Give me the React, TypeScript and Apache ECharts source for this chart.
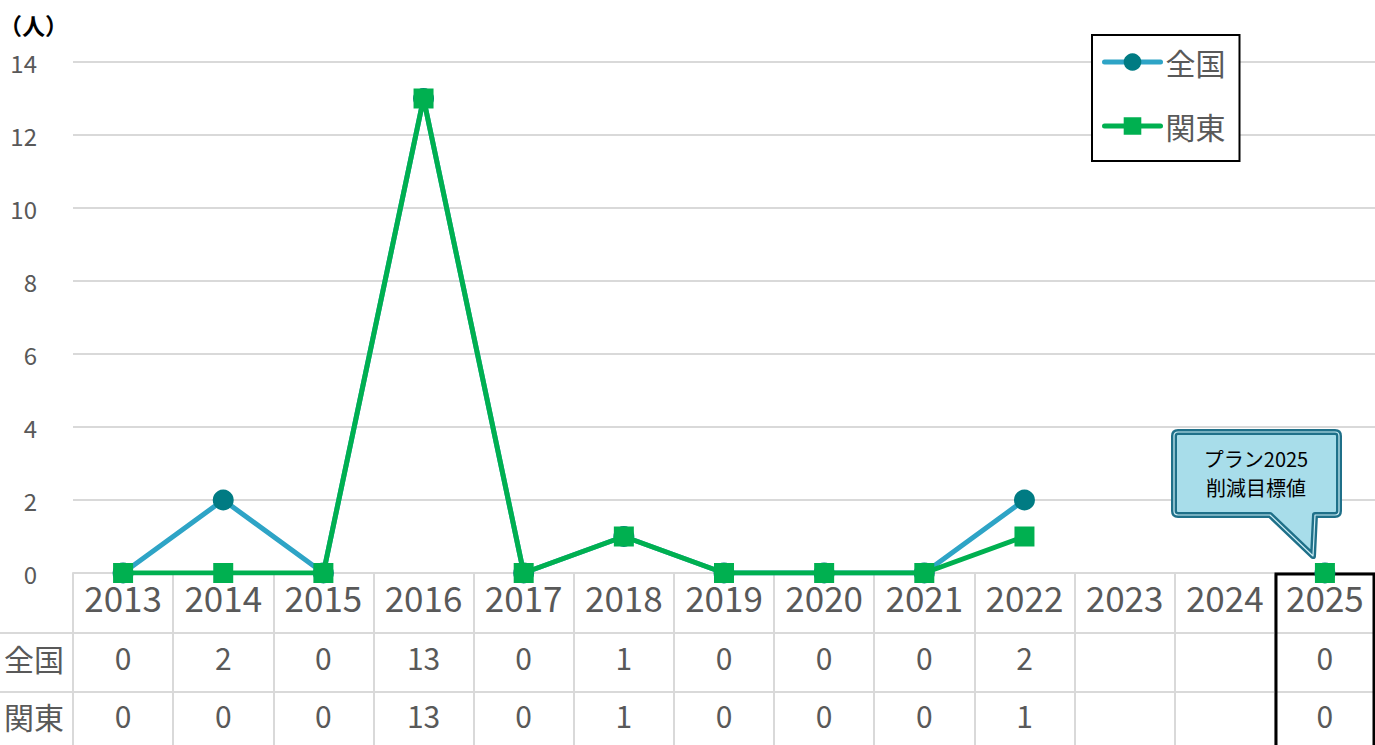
import React, { useEffect, useRef } from "react";
import * as echarts from "echarts";

const years = ["2013", "2014", "2015", "2016", "2017", "2018", "2019", "2020", "2021", "2022", "2023", "2024", "2025"];
const zenkoku: (number | null)[] = [0, 2, 0, 13, 0, 1, 0, 0, 0, 2, null, null, 0];
const kanto: (number | null)[] = [0, 0, 0, 13, 0, 1, 0, 0, 0, 1, null, null, 0];
const seriesNames = ["全国", "関東"];
const yMin = 0;
const yMax = 14;
const yInterval = 2;
const unitLabel = "（人）";
const calloutLines = ["プラン2025", "削減目標値"];

const FONT = "'Noto Sans CJK JP', 'Noto Sans', sans-serif";
const GRID_C = "#d9d9d9";
const TEXT_C = "#595959";

const CALLOUT_D =
  "M4,0 H161 Q165,0 165,4 V79 Q165,83 161,83 H141 L139,124 L96,83 H4 Q0,83 0,79 V4 Q0,0 4,0 Z";
let registered = false;
function ensureShape() {
  if (registered) return;
  echarts.graphic.registerShape("callout", echarts.graphic.extendPath(CALLOUT_D, {}));
  registered = true;
}

const fmt = (arr: (number | null)[]) => (_v: string, i: number) => {
  const v = arr[i];
  return v === null || v === undefined ? "" : String(v);
};

export default function App() {
  const ref = useRef<HTMLDivElement>(null);
  useEffect(() => {
    if (!ref.current) return;
    ensureShape();
    const chart = echarts.init(ref.current, undefined, { renderer: "svg" });
    const baseX = {
      type: "category" as const,
      data: years,
      boundaryGap: true,
      position: "bottom" as const,
    };
    chart.setOption({
      animation: false,
      textStyle: { fontFamily: FONT },
      grid: { left: 73, top: 62, width: 1304, bottom: 172 },
      legend: {
        data: seriesNames,
        orient: "vertical",
        left: 1092,
        top: 35,
        padding: [12, 14, 20, 10],
        itemGap: 34,
        itemWidth: 56,
        itemHeight: 22,
        itemTextGap: 5,
        borderColor: "#000",
        borderWidth: 2,
        backgroundColor: "#fff",
        lineStyle: { width: 5, cap: "round" },
        textStyle: { fontSize: 30, color: TEXT_C, fontFamily: FONT },
      },
      xAxis: [
        {
          ...baseX,
          axisLine: { show: true, lineStyle: { color: GRID_C, width: 2 } },
          axisTick: { show: true, interval: 0, length: 172, lineStyle: { color: GRID_C, width: 2 } },
          axisLabel: {
            interval: 0,
            margin: 23,
            verticalAlign: "middle",
            fontSize: 35,
            color: TEXT_C,
            fontFamily: FONT,
          },
          splitLine: { show: false },
        },
        {
          ...baseX,
          axisLine: { show: false },
          axisTick: { show: false },
          axisLabel: {
            interval: 0,
            margin: 84,
            verticalAlign: "middle",
            fontSize: 30,
            color: TEXT_C,
            fontFamily: FONT,
            formatter: fmt(zenkoku),
          },
        },
        {
          ...baseX,
          axisLine: { show: false },
          axisTick: { show: false },
          axisLabel: {
            interval: 0,
            margin: 142,
            verticalAlign: "middle",
            fontSize: 30,
            color: TEXT_C,
            fontFamily: FONT,
            formatter: fmt(kanto),
          },
        },
      ],
      yAxis: {
        type: "value",
        min: yMin,
        max: yMax,
        interval: yInterval,
        axisLine: { show: false },
        axisTick: { show: false },
        axisLabel: { margin: 36, fontSize: 24, color: TEXT_C, fontFamily: FONT },
        splitLine: { lineStyle: { color: GRID_C, width: 2 } },
      },
      series: [
        {
          name: seriesNames[0],
          type: "line",
          data: zenkoku,
          xAxisIndex: 0,
          symbol: "circle",
          symbolSize: 21,
          lineStyle: { color: "#2EA4C6", width: 5 },
          itemStyle: { color: "#007B83" },
          z: 3,
        },
        {
          name: seriesNames[1],
          type: "line",
          data: kanto,
          xAxisIndex: 0,
          symbol: "rect",
          symbolSize: 20,
          lineStyle: { color: "#00B050", width: 5 },
          itemStyle: { color: "#00B050" },
          z: 4,
        },
      ],
      graphic: [
        {
          type: "line",
          shape: { x1: 0, y1: 633, x2: 1375, y2: 633 },
          style: { stroke: GRID_C, lineWidth: 2 },
          z: 1,
        },
        {
          type: "line",
          shape: { x1: 0, y1: 692, x2: 1375, y2: 692 },
          style: { stroke: GRID_C, lineWidth: 2 },
          z: 1,
        },
        {
          type: "text",
          x: 34,
          y: 658,
          style: {
            text: seriesNames[0],
            fontSize: 30,
            fill: TEXT_C,
            fontFamily: FONT,
            textAlign: "center",
            textVerticalAlign: "middle",
          },
        },
        {
          type: "text",
          x: 34,
          y: 716,
          style: {
            text: seriesNames[1],
            fontSize: 30,
            fill: TEXT_C,
            fontFamily: FONT,
            textAlign: "center",
            textVerticalAlign: "middle",
          },
        },
        {
          type: "text",
          x: -1,
          y: 25,
          style: {
            text: unitLabel,
            fontSize: 23,
            fontWeight: "bold",
            fill: "#000",
            fontFamily: FONT,
            textAlign: "left",
            textVerticalAlign: "middle",
          },
        },
        {
          type: "rect",
          shape: { x: 1276, y: 574, width: 98, height: 180 },
          style: { fill: "none", stroke: "#000", lineWidth: 3 },
          z: 2,
        },
        {
          type: "callout",
          x: 1174,
          y: 432,
          style: { fill: "#A8DDEA", stroke: "#1F7089", lineWidth: 6, lineJoin: "round" },
          z: 10,
        },
        {
          type: "callout",
          x: 1174,
          y: 432,
          style: { fill: "none", stroke: "#cdeef6", lineWidth: 1.2, lineJoin: "round" },
          z: 11,
        },
        {
          type: "text",
          x: 1256,
          y: 458,
          style: {
            text: calloutLines[0],
            fontSize: 20,
            fill: "#000",
            fontFamily: FONT,
            textAlign: "center",
            textVerticalAlign: "middle",
          },
          z: 12,
        },
        {
          type: "text",
          x: 1256,
          y: 487,
          style: {
            text: calloutLines[1],
            fontSize: 20,
            fill: "#000",
            fontFamily: FONT,
            textAlign: "center",
            textVerticalAlign: "middle",
          },
          z: 12,
        },
      ],
    });
    return () => chart.dispose();
  }, []);
  return (
    <div
      ref={ref}
      style={{ position: "absolute", left: 0, top: 0, width: 1375, height: 745, background: "#fff" }}
    />
  );
}
